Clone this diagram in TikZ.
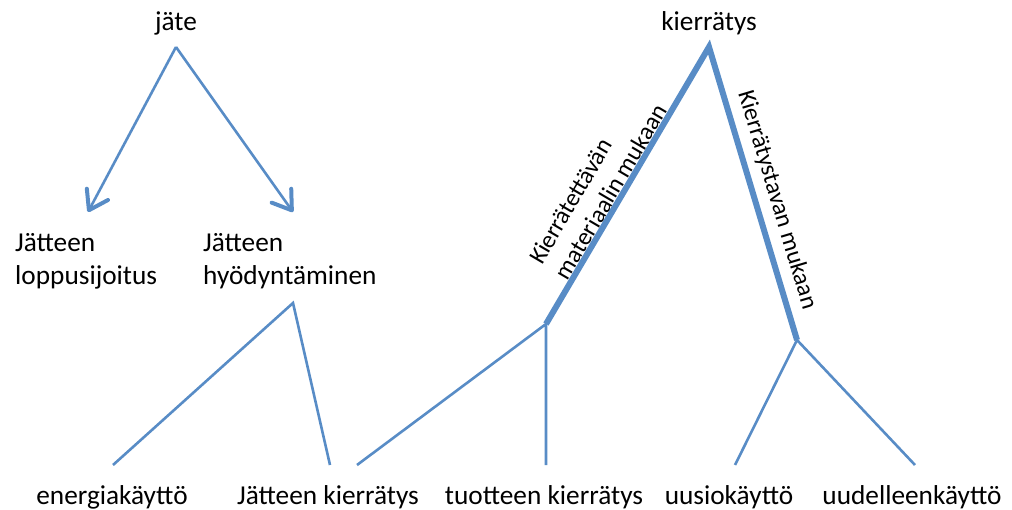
\documentclass[tikz,border=0pt]{standalone}
\usepackage{fontspec}
\setmainfont{Carlito}
\usetikzlibrary{arrows.meta}
\definecolor{branch}{RGB}{88,140,198}
\tikzset{
  lbl/.style={inner sep=0pt, font=\fontsize{27.3}{33}\selectfont},
  side/.style={inner sep=0pt, font=\fontsize{24.5}{30}\selectfont},
  thin/.style={draw=branch, line width=2.6pt},
  thick/.style={draw=branch, line width=6pt},
  arr/.style={thin, -{Straight Barb[length=18pt,width=24pt,line width=4pt,round]}},
}
\begin{document}
\begin{tikzpicture}[x=1pt,y=-1pt]
\useasboundingbox (0,0) rectangle (1012,510);
% left tree: waste
\node[lbl, anchor=base] (jate) at (176,31) {jäte};
\coordinate (jtop) at (176,47);
\node[lbl, anchor=north west, align=left] (lopp) at (15,233) {Jätteen\\loppusijoitus};
\node[lbl, anchor=north west, align=left] (hyod) at (203,233) {Jätteen\\hyödyntäminen};
\coordinate (lt) at (88,212);
\coordinate (rt) at (293,212);
\draw[arr] (jtop) -- (lt);
\draw[arr] (jtop) -- (rt);
\coordinate (hfork) at (293,303);
% bottom labels
\node[lbl, anchor=base] (energia) at (112,504) {energiakäyttö};
\node[lbl, anchor=base] (jkierr) at (328,504) {Jätteen kierrätys};
\node[lbl, anchor=base] (tkierr) at (544,504) {tuotteen kierrätys};
\node[lbl, anchor=base] (uusio) at (729,504) {uusiokäyttö};
\node[lbl, anchor=base] (uudel) at (912,504) {uudelleenkäyttö};
\coordinate (e1) at (113,465);
\coordinate (e2) at (330,465);
\draw[thin] (e1) -- (hfork) -- (e2);
% right tree: recycling
\node[lbl, anchor=base] (kierr) at (709,31) {kierrätys};
\coordinate (ktop) at (709,47);
\coordinate (mfork) at (546,324);
\coordinate (tfork) at (797,340);
\draw[thick, line join=miter] (mfork) -- (ktop) -- (tfork);
\coordinate (e3) at (357,465);
\coordinate (e4) at (546,465);
\coordinate (e5) at (735,465);
\coordinate (e6) at (915,465);
\draw[thin] (e3) -- (mfork) -- (e4);
\draw[thin] (e5) -- (tfork) -- (e6);
\node[side, rotate=59.5, align=left] (mat) at (598,184) {Kierrätettävän\\materiaalin mukaan};
\node[side, rotate=-73.3] (tapa) at (777,200) {Kierrätystavan mukaan};
\end{tikzpicture}
\end{document}
